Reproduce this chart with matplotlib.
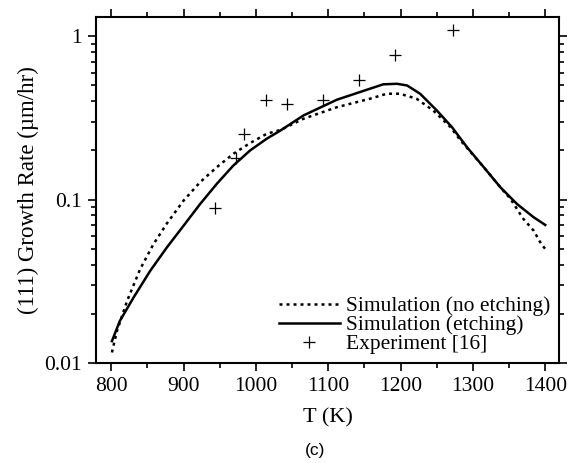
import matplotlib
matplotlib.use("Agg")
import matplotlib.pyplot as plt
from matplotlib.ticker import LogLocator, NullFormatter, FixedLocator, FixedFormatter

plt.rcParams['font.family'] = ['Liberation Serif', 'DejaVu Serif']

# simulation without etching (dotted)
t_noetch = [801, 808, 822, 840, 858, 877, 900, 923, 946, 969, 992, 1015, 1034, 1066,
            1112, 1158, 1181, 1199, 1222, 1245, 1269, 1283, 1315, 1338, 1352, 1370,
            1384, 1395, 1400]
g_noetch = [0.0116, 0.0157, 0.024, 0.0375, 0.053, 0.0715, 0.0986, 0.128, 0.158, 0.191,
            0.222, 0.253, 0.267, 0.313, 0.368, 0.415, 0.445, 0.445, 0.415, 0.352, 0.278,
            0.230, 0.158, 0.119, 0.101, 0.076, 0.0646, 0.053, 0.050]

# simulation with etching (solid)
t_etch = [801, 812, 831, 854, 877, 900, 923, 946, 969, 992, 1015, 1034, 1066, 1112,
          1158, 1176, 1195, 1209, 1227, 1250, 1271, 1292, 1315, 1338, 1361, 1384, 1400]
g_etch = [0.0136, 0.0181, 0.0252, 0.0367, 0.051, 0.0692, 0.0941, 0.125, 0.162, 0.200,
          0.236, 0.265, 0.328, 0.409, 0.478, 0.508, 0.512, 0.500, 0.445, 0.352, 0.278,
          0.209, 0.158, 0.119, 0.094, 0.078, 0.070]

# experiment [16]
t_exp = [944, 973, 984, 1014, 1043, 1093, 1143, 1193, 1273]
g_exp = [0.089, 0.179, 0.254, 0.405, 0.383, 0.405, 0.537, 0.765, 1.10]

fig = plt.figure(figsize=(5.69, 4.63), dpi=100)
ax = fig.add_axes([0.1687, 0.216, 0.8137, 0.747])

ax.plot(t_noetch, g_noetch, color='black', lw=1.8, linestyle=(0, (1.2, 1.6)),
        label='Simulation (no etching)')
ax.plot(t_etch, g_etch, color='black', lw=1.8, label='Simulation (etching)')
ax.plot(t_exp, g_exp, linestyle='none', marker='+', markersize=9, mew=0.9,
        color='black', label='Experiment [16]')

ax.set_yscale('log')
ax.set_xlim(779, 1419)
ax.set_ylim(0.01, 1.31)

ax.set_xticks([800, 900, 1000, 1100, 1200, 1300, 1400])
ax.set_xticks([850, 950, 1050, 1150, 1250, 1350], minor=True)
ax.yaxis.set_major_locator(FixedLocator([0.01, 0.1, 1]))
ax.yaxis.set_major_formatter(FixedFormatter(['0.01', '0.1', '1']))
ax.yaxis.set_minor_locator(LogLocator(base=10, subs=range(2, 10)))
ax.yaxis.set_minor_formatter(NullFormatter())

ax.tick_params(which='both', direction='out', top=True, right=True, labelsize=15.5,
               width=1.2)
ax.tick_params(which='major', length=6, pad=4)
ax.tick_params(which='minor', length=3.5)
for s in ax.spines.values():
    s.set_linewidth(1.5)

ax.set_xlabel('T (K)', fontsize=16, labelpad=9)
ax.set_ylabel('(111) Growth Rate (µm/hr)', fontsize=16.5, labelpad=4)

ax.legend(loc='lower right', frameon=False, fontsize=15.5, handlelength=2.8,
          labelspacing=-0.05, handletextpad=0.3, borderaxespad=0.1,
          borderpad=0.3, bbox_to_anchor=(1.0, 0.0))

fig.text(0.553, 0.028, '(c)', fontsize=12.5, family='Liberation Sans',
         ha='center', va='center')

fig.savefig('out.png', dpi=100)
